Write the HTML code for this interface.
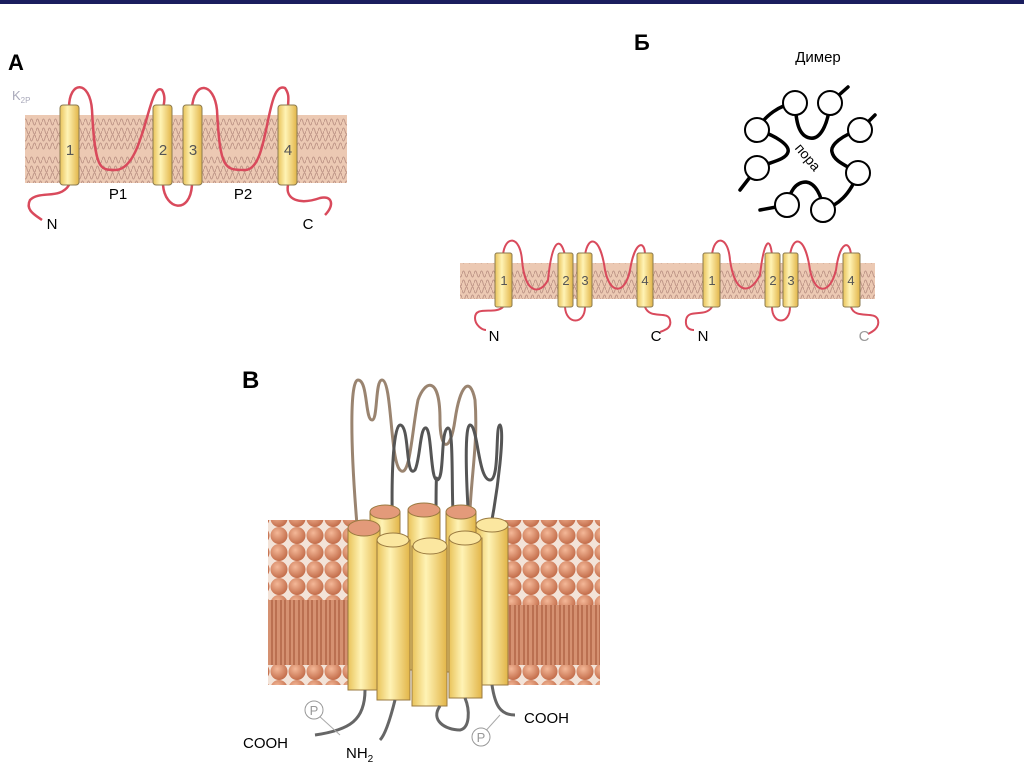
<!DOCTYPE html>
<html><head><meta charset="utf-8"><style>
body{margin:0;background:#fff;}
svg{display:block;font-family:"Liberation Sans",sans-serif;}
</style></head><body>
<svg width="1024" height="767" viewBox="0 0 1024 767" xmlns="http://www.w3.org/2000/svg">
<defs>
<pattern id="lip" width="6" height="38" patternUnits="userSpaceOnUse">
<rect width="6" height="38" fill="#e9c0a6"/>
<path d="M0 8 Q1.5 2 3 8 T6 8 M0 17 Q1.5 11 3 17 T6 17 M0 24 Q1.5 30 3 24 T6 24 M0 32 Q1.5 38 3 32 T6 32" stroke="#b08070" stroke-width="0.9" fill="none"/>
</pattern>
<linearGradient id="cyl" x1="0" x2="1">
<stop offset="0" stop-color="#e9c35a"/><stop offset="0.4" stop-color="#fff3b5"/><stop offset="1" stop-color="#e2b548"/>
</linearGradient>
<radialGradient id="ball" cx="0.4" cy="0.35" r="0.7">
<stop offset="0" stop-color="#f4b898"/><stop offset="1" stop-color="#c06845"/>
</radialGradient>
<pattern id="balls" width="18" height="17" patternUnits="userSpaceOnUse">
<rect width="18" height="17" fill="#f3e3d8"/>
<circle cx="9" cy="8.5" r="8.5" fill="url(#ball)"/>
</pattern>
<pattern id="tails" width="9" height="20" patternUnits="userSpaceOnUse">
<rect width="9" height="20" fill="#d59171"/>
<path d="M2 0 V20 M6 0 V20" stroke="#a85a3c" stroke-width="1.2"/>
</pattern>
</defs>
<rect x="0" y="0" width="1024" height="4" fill="#1a1d5e"/>

<!-- A -->
<text x="8" y="70" font-size="22" font-weight="bold">A</text>
<text x="12" y="100" font-size="13" fill="#aab">K<tspan font-size="8" dy="3">2P</tspan></text>
<rect x="25" y="115" width="322" height="68" fill="url(#lip)" opacity="0.85"/>
<g stroke="#d94a5c" stroke-width="2.5" fill="none">
<path d="M69 108 C69 80 90 80 92 110 C95 170 100 170 115 170 C145 170 148 80 162 90 C165 95 165 100 163 108"/>
<path d="M192 108 C194 80 214 82 217 110 C220 170 225 170 245 170 C270 170 265 80 285 88 C290 95 288 100 288 108"/>
<path d="M69 185 C60 200 40 190 30 200 C25 210 35 215 42 220"/>
<path d="M163 185 C165 210 190 215 192 185"/>
<path d="M288 185 C285 200 300 205 320 198 C332 195 335 205 325 215"/>
</g>
<g stroke="#8a7a50" stroke-width="1">
<rect x="60" y="105" width="19" height="80" rx="3" fill="url(#cyl)"/>
<rect x="153" y="105" width="19" height="80" rx="3" fill="url(#cyl)"/>
<rect x="183" y="105" width="19" height="80" rx="3" fill="url(#cyl)"/>
<rect x="278" y="105" width="19" height="80" rx="3" fill="url(#cyl)"/>
</g>
<g font-size="15" fill="#555" text-anchor="middle">
<text x="70" y="155">1</text><text x="163" y="155">2</text><text x="193" y="155">3</text><text x="288" y="155">4</text>
</g>
<g font-size="15" text-anchor="middle">
<text x="118" y="199">P1</text><text x="243" y="199">P2</text><text x="52" y="229">N</text><text x="308" y="229">C</text>
</g>

<!-- Б -->
<text x="634" y="50" font-size="22" font-weight="bold">Б</text>
<text x="818" y="62" font-size="15" text-anchor="middle">Димер</text>
<g stroke="#000" stroke-width="3.5" fill="none" stroke-linecap="round">
<path d="M848 87 L830 103 C828 125 820 140 810 138 C798 136 796 120 795 103 C780 105 765 115 757 130 C775 135 790 145 788 152 C786 160 770 162 757 168 L740 190"/>
<path d="M875 115 L860 130 C842 135 830 145 832 152 C834 162 848 166 858 173 C850 195 838 205 823 210 C822 195 815 183 806 182 C795 182 790 192 787 205 L760 210"/>
</g>
<g stroke="#000" stroke-width="2" fill="#fff">
<circle cx="795" cy="103" r="12"/><circle cx="830" cy="103" r="12"/>
<circle cx="757" cy="130" r="12"/><circle cx="860" cy="130" r="12"/>
<circle cx="757" cy="168" r="12"/><circle cx="858" cy="173" r="12"/>
<circle cx="787" cy="205" r="12"/><circle cx="823" cy="210" r="12"/>
</g>
<text x="808" y="162" font-size="14" text-anchor="middle" transform="rotate(50 808 157)">пора</text>

<rect x="460" y="263" width="415" height="36" fill="url(#lip)" opacity="0.85"/>
<g stroke="#d94a5c" stroke-width="2" fill="none">
<path d="M503 255 C505 235 520 235 522 260 C525 295 540 295 548 280 C552 240 560 235 565 255"/>
<path d="M585 255 C588 235 600 235 605 270 C610 295 625 295 630 270 C635 240 645 240 645 255"/>
<path d="M712 255 C714 235 728 235 730 260 C735 295 750 295 760 275 C764 240 770 235 772 255"/>
<path d="M790 255 C793 235 805 235 810 270 C815 295 830 295 836 270 C840 240 850 240 851 255"/>
<path d="M503 307 C495 315 475 305 475 318 C475 325 482 330 486 330"/>
<path d="M565 307 C566 325 585 325 585 307 M772 307 C772 325 790 325 790 307"/>
<path d="M645 307 C650 320 668 310 670 320 C672 328 665 330 660 332"/>
<path d="M712 307 C705 318 688 308 686 320 C685 328 690 330 694 330"/>
<path d="M851 307 C855 320 875 310 878 320 C880 328 872 332 868 334"/>
</g>
<g stroke="#8a7a50" stroke-width="1" fill="url(#cyl)">
<rect x="495" y="253" width="17" height="54" rx="2"/><rect x="558" y="253" width="15" height="54" rx="2"/>
<rect x="577" y="253" width="15" height="54" rx="2"/><rect x="637" y="253" width="16" height="54" rx="2"/>
<rect x="703" y="253" width="17" height="54" rx="2"/><rect x="765" y="253" width="15" height="54" rx="2"/>
<rect x="783" y="253" width="15" height="54" rx="2"/><rect x="843" y="253" width="17" height="54" rx="2"/>
</g>
<g font-size="13" fill="#555" text-anchor="middle">
<text x="504" y="285">1</text><text x="566" y="285">2</text><text x="585" y="285">3</text><text x="645" y="285">4</text>
<text x="712" y="285">1</text><text x="773" y="285">2</text><text x="791" y="285">3</text><text x="851" y="285">4</text>
</g>
<g font-size="15" text-anchor="middle">
<text x="494" y="341">N</text><text x="656" y="341">C</text><text x="703" y="341">N</text><text x="864" y="341" fill="#999">C</text>
</g>

<!-- B -->
<text x="242" y="388" font-size="24" font-weight="bold">B</text>
<rect x="268" y="520" width="90" height="85" fill="url(#balls)"/>
<rect x="268" y="600" width="90" height="70" fill="url(#tails)"/>
<rect x="268" y="665" width="90" height="20" fill="url(#balls)"/>
<rect x="485" y="520" width="115" height="90" fill="url(#balls)"/>
<rect x="485" y="605" width="115" height="65" fill="url(#tails)"/>
<rect x="485" y="665" width="115" height="20" fill="url(#balls)"/>
<g fill="none" stroke-width="3">
<path d="M357 525 C350 440 350 380 358 380 C368 380 365 420 372 420 C378 420 375 380 382 380 C392 380 390 460 400 470 C410 480 412 430 418 400 C425 380 440 375 440 420 C440 450 450 455 455 420 C460 385 470 375 475 400 C478 440 472 470 470 510" stroke="#9a8470"/>
<path d="M393 545 C390 460 395 425 400 425 C410 425 405 480 415 470 C420 460 420 430 425 428 C432 425 430 480 437 480 C445 480 440 430 448 428 C455 428 450 520 455 520 M436 545 C436 500 436 470 437 480 M470 538 C465 470 465 425 470 425 C478 425 478 480 490 480 C500 480 495 425 500 425 C505 430 498 490 490 530" stroke="#555"/>
</g>
<g stroke="#9a7a40" stroke-width="1">
<rect x="370" y="512" width="30" height="160" fill="url(#cyl)"/><ellipse cx="385" cy="512" rx="15" ry="7" fill="#e39a7a"/>
<rect x="408" y="510" width="32" height="160" fill="url(#cyl)"/><ellipse cx="424" cy="510" rx="16" ry="7" fill="#e39a7a"/>
<rect x="446" y="512" width="30" height="160" fill="url(#cyl)"/><ellipse cx="461" cy="512" rx="15" ry="7" fill="#e39a7a"/>
<rect x="348" y="528" width="32" height="162" fill="url(#cyl)"/><ellipse cx="364" cy="528" rx="16" ry="8" fill="#e39a7a"/>
<rect x="476" y="525" width="32" height="160" fill="url(#cyl)"/><ellipse cx="492" cy="525" rx="16" ry="7" fill="#fbe7a0"/>
<rect x="377" y="540" width="33" height="160" fill="url(#cyl)"/><ellipse cx="393" cy="540" rx="16" ry="7" fill="#fbe7a0"/>
<rect x="449" y="538" width="33" height="160" fill="url(#cyl)"/><ellipse cx="465" cy="538" rx="16" ry="7" fill="#fbe7a0"/>
<rect x="412" y="546" width="35" height="160" fill="url(#cyl)"/><ellipse cx="430" cy="546" rx="17" ry="8" fill="#fbe7a0"/>
</g>
<g fill="none" stroke="#666" stroke-width="3">
<path d="M365 690 C365 720 350 730 315 735"/>
<path d="M395 700 C390 720 385 735 380 740"/>
<path d="M440 706 C430 720 445 730 460 730 C470 728 470 710 465 698"/>
<path d="M492 685 C495 705 500 715 515 715"/>
</g>
<g stroke="#999" fill="#fff" font-size="13">
<line x1="318" y1="715" x2="340" y2="735" stroke="#aaa"/>
<circle cx="314" cy="710" r="9"/><text x="314" y="715" text-anchor="middle" fill="#999" stroke="none">P</text>
<line x1="482" y1="735" x2="500" y2="715" stroke="#aaa"/>
<circle cx="481" cy="737" r="9"/><text x="481" y="742" text-anchor="middle" fill="#999" stroke="none">P</text>
</g>
<g font-size="15">
<text x="243" y="748">COOH</text>
<text x="346" y="758">NH<tspan font-size="10" dy="4">2</tspan></text>
<text x="524" y="723">COOH</text>
</g>
</svg>
</body></html>
